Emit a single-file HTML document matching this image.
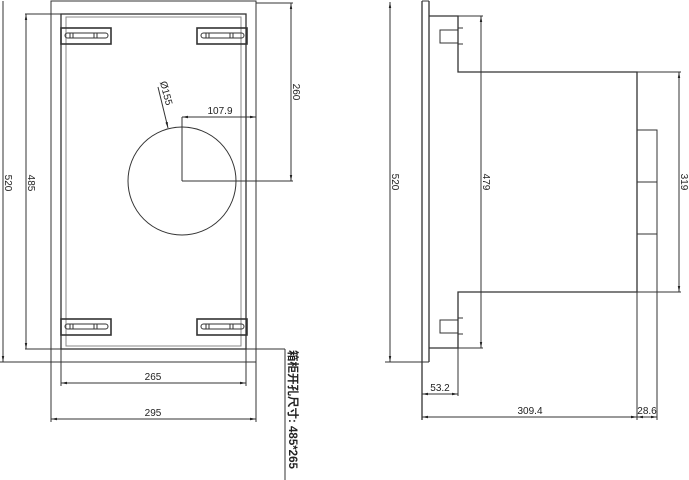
<!DOCTYPE html>
<html><head><meta charset="utf-8"><style>
html,body{margin:0;padding:0;background:#fff;width:689px;height:480px;overflow:hidden}
svg{display:block}
text{font-family:"Liberation Sans Narrow","Liberation Sans","Noto Sans CJK SC",sans-serif;fill:#222}
</style></head><body>
<svg width="689" height="480" viewBox="0 0 689 480" xmlns="http://www.w3.org/2000/svg">
<defs>
<marker id="a" viewBox="0 0 10 10" refX="10" refY="5" markerWidth="6" markerHeight="6" orient="auto-start-reverse"><path d="M0,3 L10,5 L0,7 z" fill="#222"/></marker>
</defs>
<g stroke="#333" stroke-width="1" fill="none">
<rect x="51" y="1" width="205" height="361"/>
<rect x="61" y="14" width="185" height="335" stroke-width="1.3"/>
<rect x="66" y="17" width="175" height="329" stroke="#888"/>
<g id="br">
<rect x="61" y="28" width="50" height="16" stroke-width="1.6"/>
<rect x="65" y="33" width="43" height="5" rx="2.5"/>
<line x1="70" y1="33" x2="70" y2="38"/><line x1="73" y1="33" x2="73" y2="38"/>
<line x1="94" y1="33" x2="94" y2="38"/><line x1="97" y1="33" x2="97" y2="38"/>
</g>
<use href="#br" x="136"/>
<use href="#br" y="291"/>
<use href="#br" x="136" y="291"/>
<circle cx="182" cy="181" r="54"/>
<line x1="182" y1="117" x2="182" y2="181"/>
<line x1="182" y1="181" x2="293" y2="181"/>
<line x1="182" y1="117" x2="256" y2="117" marker-start="url(#a)" marker-end="url(#a)"/>
<line x1="158" y1="87" x2="168" y2="128" marker-end="url(#a)"/>
<line x1="256" y1="3" x2="293" y2="3"/>
<line x1="291" y1="3" x2="291" y2="181" marker-start="url(#a)" marker-end="url(#a)"/>
<line x1="0" y1="362" x2="256" y2="362"/>
<line x1="3" y1="1" x2="3" y2="362" marker-end="url(#a)"/>
<line x1="25" y1="14" x2="61" y2="14"/>
<line x1="25" y1="349" x2="285" y2="349"/>
<line x1="26" y1="14" x2="26" y2="349" marker-start="url(#a)" marker-end="url(#a)"/>
<line x1="285" y1="349" x2="285" y2="480"/>
<line x1="61" y1="349" x2="61" y2="386"/><line x1="246" y1="349" x2="246" y2="386"/>
<line x1="61" y1="383" x2="246" y2="383" marker-start="url(#a)" marker-end="url(#a)"/>
<line x1="51" y1="362" x2="51" y2="422"/><line x1="256" y1="362" x2="256" y2="422"/>
<line x1="51" y1="419" x2="256" y2="419" marker-start="url(#a)" marker-end="url(#a)"/>

<line x1="422" y1="1" x2="422" y2="420" stroke-width="1.3"/>
<line x1="429" y1="1" x2="429" y2="362" stroke-width="1.3"/>
<line x1="422" y1="1" x2="429" y2="1"/>
<line x1="385" y1="362" x2="429" y2="362"/>
<line x1="390" y1="2" x2="390" y2="362" marker-start="url(#a)" marker-end="url(#a)"/>
<path d="M429,16 H458 V72 H637 V292 H458 V348 H429" stroke-width="1.3"/>
<line x1="458" y1="16" x2="483" y2="16"/>
<line x1="458" y1="348" x2="483" y2="348"/>
<line x1="481" y1="16" x2="481" y2="348" marker-start="url(#a)" marker-end="url(#a)"/>
<line x1="637" y1="72" x2="681" y2="72"/>
<line x1="637" y1="292" x2="681" y2="292"/>
<line x1="679" y1="72" x2="679" y2="292" marker-start="url(#a)" marker-end="url(#a)"/>
<rect x="637" y="130" width="20" height="104"/>
<line x1="637" y1="182" x2="657" y2="182"/>
<line x1="657" y1="234" x2="657" y2="420"/>
<line x1="637" y1="292" x2="637" y2="420"/>
<line x1="458" y1="348" x2="458" y2="396"/>
<g id="cn">
<rect x="440" y="30" width="18" height="13"/>
<line x1="458" y1="28" x2="463" y2="28"/><line x1="458" y1="44" x2="463" y2="44"/>
</g>
<use href="#cn" y="290"/>
<line x1="422" y1="394" x2="458" y2="394" marker-start="url(#a)" marker-end="url(#a)"/>
<line x1="422" y1="417" x2="637" y2="417" marker-start="url(#a)" marker-end="url(#a)"/>
<line x1="637" y1="417" x2="657" y2="417" marker-start="url(#a)" marker-end="url(#a)"/>
</g>
<g font-size="10">
<text x="220" y="114" text-anchor="middle">107.9</text>
<text x="153" y="380" text-anchor="middle">265</text>
<text x="153" y="416" text-anchor="middle">295</text>
<text x="440" y="391" text-anchor="middle">53.2</text>
<text x="530" y="414" text-anchor="middle">309.4</text>
<text x="647" y="414" text-anchor="middle">28.6</text>
<text transform="translate(5,183) rotate(90)" text-anchor="middle">520</text>
<text transform="translate(28,183) rotate(90)" text-anchor="middle">485</text>
<text transform="translate(293,92) rotate(90)" text-anchor="middle">260</text>
<text transform="translate(392,182) rotate(90)" text-anchor="middle">520</text>
<text transform="translate(483,182) rotate(90)" text-anchor="middle">479</text>
<text transform="translate(681,182) rotate(90)" text-anchor="middle">319</text>
<text transform="translate(163,94) rotate(75)" text-anchor="middle">Ø155</text>
</g>
<text transform="translate(289,350) rotate(90)" font-size="11.5" font-weight="bold" style="font-family:'Liberation Sans','Noto Sans CJK SC',sans-serif">箱柜开孔尺寸: 485*265</text>
</svg>
</body></html>
